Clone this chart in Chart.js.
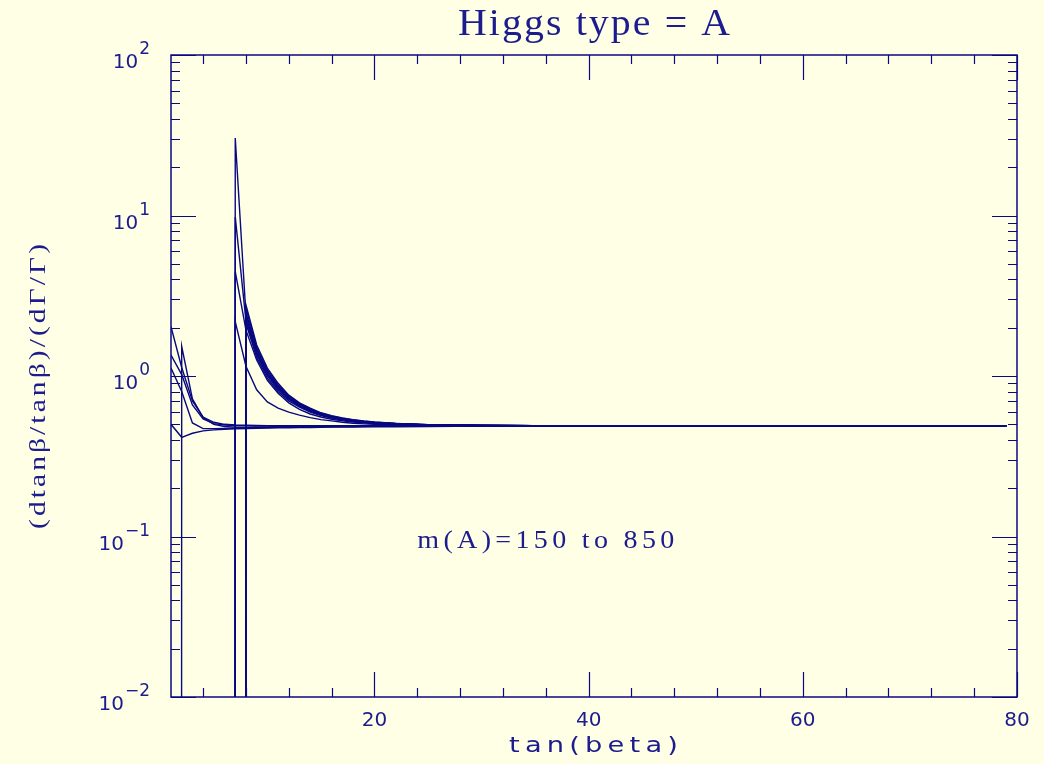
<!DOCTYPE html>
<html>
<head>
<meta charset="utf-8">
<script src="https://cdn.jsdelivr.net/npm/chart.js@4.4.1/dist/chart.umd.min.js"></script>
<style>
  html, body { margin: 0; padding: 0; background: #ffffe6; }
  #wrap { width: 1044px; height: 764px; }
</style>
</head>
<body>
<div id="wrap"><canvas id="higgs-chart" width="1044" height="764"></canvas></div>
<script>
// tan(beta) sample points shared by every curve
const tanBeta = [1, 2, 3, 4, 5, 6, 7, 8, 9, 10, 11, 12, 13, 14, 15, 16, 17, 18, 19, 20,
                 22, 25, 30, 35, 40, 50, 60, 70, 79];

// (dtanb/tanb)/(dG/G) for each m(A); 0 = no value (drops off the bottom)
const m150 = [2.03, 1.13, 0.70, 0.555, 0.515, 0.50, 0.495, 0.493, 0.492, 0.491,
              0.49, 0.49, 0.49, 0.49, 0.49, 0.49, 0.49, 0.49, 0.49, 0.49,
              0.49, 0.49, 0.49, 0.49, 0.49, 0.49, 0.49, 0.49, 0.49];
const m200 = [1.35, 1.02, 0.66, 0.54, 0.505, 0.495, 0.492, 0.491, 0.49, 0.49,
              0.49, 0.49, 0.49, 0.49, 0.49, 0.49, 0.49, 0.49, 0.49, 0.49,
              0.49, 0.49, 0.49, 0.49, 0.49, 0.49, 0.49, 0.49, 0.49];
const m250 = [1.12, 0.80, 0.51, 0.47, 0.47, 0.472, 0.474, 0.476, 0.477, 0.478,
              0.479, 0.48, 0.481, 0.482, 0.483, 0.483, 0.484, 0.485, 0.485, 0.486,
              0.487, 0.488, 0.489, 0.49, 0.49, 0.49, 0.49, 0.49, 0.49];
const m300 = [0.50, 0.415, 0.44, 0.455, 0.462, 0.466, 0.469, 0.471, 0.473, 0.474,
              0.475, 0.476, 0.477, 0.478, 0.479, 0.48, 0.48, 0.481, 0.482, 0.482,
              0.483, 0.485, 0.487, 0.488, 0.489, 0.49, 0.49, 0.49, 0.49];
const m350 = [0, 1.53, 0.72, 0.55, 0.50, 0.485, 0.48, 0.48, 0.481, 0.482,
              0.483, 0.484, 0.485, 0.486, 0.486, 0.487, 0.487, 0.488, 0.488, 0.489,
              0.489, 0.49, 0.49, 0.49, 0.49, 0.49, 0.49, 0.49, 0.49];
const m400 = [0, 0, 0, 0, 0, 0, 30.4, 2.4, 1.45, 1.06,
              0.86, 0.74, 0.665, 0.62, 0.58, 0.556, 0.54, 0.528, 0.52, 0.512,
              0.503, 0.496, 0.492, 0.49, 0.49, 0.49, 0.49, 0.49, 0.49];
const m450 = [0, 0, 0, 0, 0, 0, 9.8, 2.2, 1.38, 1.02,
              0.84, 0.725, 0.655, 0.61, 0.575, 0.552, 0.536, 0.525, 0.517, 0.51,
              0.502, 0.495, 0.491, 0.49, 0.49, 0.49, 0.49, 0.49, 0.49];
const m500 = [0, 0, 0, 0, 0, 0, 4.47, 1.93, 1.26, 0.94,
              0.78, 0.68, 0.62, 0.58, 0.555, 0.538, 0.526, 0.517, 0.51, 0.505,
              0.498, 0.494, 0.491, 0.49, 0.49, 0.49, 0.49, 0.49, 0.49];
const m550 = [0, 0, 0, 0, 0, 0, 2.18, 1.15, 0.82, 0.69,
              0.63, 0.595, 0.57, 0.55, 0.535, 0.525, 0.515, 0.508, 0.503, 0.5,
              0.495, 0.492, 0.49, 0.49, 0.49, 0.49, 0.49, 0.49, 0.49];
const m600 = [0, 0, 0, 0, 0, 0, 0, 2.77, 1.56, 1.12,
              0.90, 0.76, 0.68, 0.63, 0.59, 0.565, 0.548, 0.535, 0.525, 0.517,
              0.507, 0.498, 0.493, 0.491, 0.49, 0.49, 0.49, 0.49, 0.49];
const m650 = [0, 0, 0, 0, 0, 0, 0, 2.65, 1.51, 1.09,
              0.88, 0.75, 0.672, 0.624, 0.586, 0.562, 0.545, 0.533, 0.523, 0.515,
              0.506, 0.497, 0.493, 0.491, 0.49, 0.49, 0.49, 0.49, 0.49];
const m700 = [0, 0, 0, 0, 0, 0, 0, 2.5, 1.46, 1.06,
              0.86, 0.74, 0.664, 0.617, 0.581, 0.558, 0.542, 0.53, 0.521, 0.514,
              0.505, 0.497, 0.492, 0.491, 0.49, 0.49, 0.49, 0.49, 0.49];
const m750 = [0, 0, 0, 0, 0, 0, 0, 2.38, 1.41, 1.03,
              0.84, 0.73, 0.656, 0.61, 0.577, 0.555, 0.54, 0.528, 0.52, 0.513,
              0.504, 0.496, 0.492, 0.49, 0.49, 0.49, 0.49, 0.49, 0.49];
const m800 = [0, 0, 0, 0, 0, 0, 0, 2.25, 1.36, 1.0,
              0.82, 0.715, 0.648, 0.603, 0.572, 0.551, 0.537, 0.526, 0.518, 0.512,
              0.503, 0.496, 0.492, 0.49, 0.49, 0.49, 0.49, 0.49, 0.49];
const m850 = [0, 0, 0, 0, 0, 0, 0, 2.12, 1.31, 0.97,
              0.80, 0.70, 0.64, 0.596, 0.567, 0.547, 0.534, 0.523, 0.516, 0.51,
              0.502, 0.495, 0.491, 0.49, 0.49, 0.49, 0.49, 0.49, 0.49];

const curves = [m150, m200, m250, m300, m350, m400, m450, m500,
                m550, m600, m650, m700, m750, m800, m850];

// axis ticks
const xMajorTicks = [20, 40, 60, 80];
const xMinorTicks = [4, 8, 12, 16, 24, 28, 32, 36, 44, 48, 52, 56, 64, 68, 72, 76];
const yMajorTicks = [0.01, 0.1, 1, 10, 100];
const yTickExponents = ['\u22122', '\u22121', '0', '1', '2'];
const yMinorTicks = [0.02, 0.03, 0.04, 0.05, 0.06, 0.07, 0.08, 0.09,
                     0.2, 0.3, 0.4, 0.5, 0.6, 0.7, 0.8, 0.9,
                     2, 3, 4, 5, 6, 7, 8, 9,
                     20, 30, 40, 50, 60, 70, 80, 90];

const titleText = 'Higgs type = A';
const xTitle = 'tan(beta)';
const yTitle = '(dtan\u03b2/tan\u03b2)/(d\u0393/\u0393)';
const noteText = 'm(A)=150 to 850';
const notePos = { x: 24, y: 0.085 };

const LINE = '#080880';
const TEXT = '#1c1c8e';
const OFF_SCALE = 1e-300; // a zero on a log axis: far below the frame

// old plotter lettering is wide: space the letters a bit, then stretch to width
function stretchText(ctx, text, x, y, width, spacing) {
  ctx.letterSpacing = spacing + 'px';
  const natural = ctx.measureText(text).width - spacing;
  ctx.save();
  ctx.translate(x, y);
  ctx.scale(width / natural, 1);
  ctx.textAlign = 'left';
  ctx.fillText(text, 0, 0);
  ctx.restore();
  ctx.letterSpacing = '0px';
}

const frame = {
  id: 'frame',
  afterDraw(chart) {
    const { ctx, chartArea: a, scales: { x, y } } = chart;
    ctx.save();

    // ticks pointing into the frame on all four sides
    ctx.strokeStyle = LINE;
    ctx.lineWidth = 1.2;
    ctx.beginPath();
    const xTick = (v, len) => {
      const px = Math.round(x.getPixelForValue(v)) + 0.5;
      ctx.moveTo(px, a.bottom); ctx.lineTo(px, a.bottom - len);
      ctx.moveTo(px, a.top); ctx.lineTo(px, a.top + len);
    };
    const yTick = (v, len) => {
      const py = Math.round(y.getPixelForValue(v)) + 0.5;
      ctx.moveTo(a.left, py); ctx.lineTo(a.left + len, py);
      ctx.moveTo(a.right, py); ctx.lineTo(a.right - len, py);
    };
    xMajorTicks.forEach(v => xTick(v, 25));
    xMinorTicks.forEach(v => xTick(v, 9));
    yMajorTicks.forEach(v => yTick(v, 25));
    yMinorTicks.forEach(v => yTick(v, 9));
    ctx.stroke();

    ctx.lineWidth = 1.5;
    ctx.strokeRect(a.left, a.top, a.right - a.left, a.bottom - a.top);

    ctx.fillStyle = TEXT;

    // x tick labels
    ctx.font = '20px "DejaVu Sans"';
    ctx.textAlign = 'center';
    ctx.textBaseline = 'alphabetic';
    xMajorTicks.forEach(v => ctx.fillText(String(v), x.getPixelForValue(v), a.bottom + 29));

    // y tick labels: 10 with a raised exponent
    yMajorTicks.forEach((v, i) => {
      const py = y.getPixelForValue(v);
      const right = a.left - 21;
      ctx.font = '17px "DejaVu Sans"';
      ctx.textAlign = 'right';
      const ew = ctx.measureText(yTickExponents[i]).width;
      ctx.fillText(yTickExponents[i], right, py - 1);
      ctx.font = '20px "DejaVu Sans"';
      ctx.fillText('10', right - ew - 1, py + 13);
    });

    const cx = (a.left + a.right) / 2;

    // title
    ctx.font = '38px "Liberation Serif"';
    stretchText(ctx, titleText, cx - 136, 35, 272, 2);

    // x axis title
    ctx.font = '21px "DejaVu Sans"';
    stretchText(ctx, xTitle, cx - 85, 752, 169, 4);

    // y axis title, rotated
    ctx.save();
    ctx.translate(45, 387);
    ctx.rotate(-Math.PI / 2);
    ctx.font = '24px "Liberation Serif"';
    stretchText(ctx, yTitle, -142, 0, 285, 2.5);
    ctx.restore();

    // annotation inside the plot
    ctx.font = '26px "Liberation Serif"';
    stretchText(ctx, noteText, x.getPixelForValue(notePos.x), y.getPixelForValue(notePos.y), 257, 4);

    ctx.restore();
  }
};

const datasets = curves.map((vals, k) => ({
  label: 'm(A) = ' + (150 + 50 * k),
  data: tanBeta.map((t, i) => ({ x: t, y: vals[i] > 0 ? vals[i] : OFF_SCALE })),
  borderColor: LINE,
  borderWidth: 1.4,
  pointRadius: 0,
  fill: false,
  tension: 0
}));

new Chart(document.getElementById('higgs-chart').getContext('2d'), {
  type: 'line',
  data: { datasets },
  options: {
    responsive: false,
    devicePixelRatio: 1,
    animation: false,
    layout: { padding: { left: 171, right: 27, top: 55, bottom: 67 } },
    plugins: { legend: { display: false }, tooltip: { enabled: false }, title: { display: false } },
    scales: {
      x: { type: 'linear', min: 1, max: 80, display: false },
      y: { type: 'logarithmic', min: 0.01, max: 100, display: false }
    }
  },
  plugins: [frame]
});
</script>
</body>
</html>
